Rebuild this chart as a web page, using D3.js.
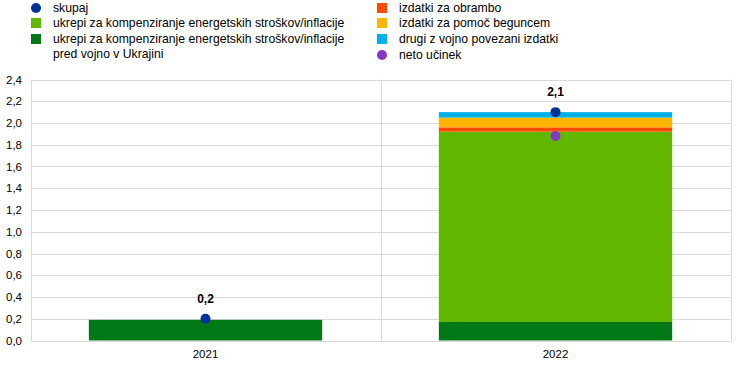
<!DOCTYPE html>
<html><head><meta charset="utf-8">
<script src="https://cdn.jsdelivr.net/npm/d3@7"></script>
<style>body{margin:0;background:#fff;}svg{display:block;font-family:"Liberation Sans",Arial,sans-serif;}</style>
</head><body><svg id="c" width="744" height="369"></svg>
<script>
const categories = ["2021", "2022"];
const seriesNames = [
  "ukrepi za kompenziranje energetskih stroškov/inflacije pred vojno v Ukrajini",
  "ukrepi za kompenziranje energetskih stroškov/inflacije",
  "izdatki za obrambo",
  "izdatki za pomoč beguncem",
  "drugi z vojno povezani izdatki"
];
const preWar = [0.19, 0.17];
const energy = [0.0, 1.75];
const defence = [0.0, 0.04];
const refugees = [0.0, 0.09];
const otherWar = [0.0, 0.05];
const total = [0.2, 2.1];
const netEffect = [null, 1.88];
const totalLabels = ["0,2", "2,1"];
const yTicks = [0, 0.2, 0.4, 0.6, 0.8, 1.0, 1.2, 1.4, 1.6, 1.8, 2.0, 2.2, 2.4];
const colors = ["#007816", "#62b800", "#ff4b00", "#ffb400", "#00b1ea"];
const dotTotal = "#003299", dotNet = "#8139c6";

const svg = d3.select("#c");
const L = 30.5, R = 730.5, T = 79.5, B = 340.5;
const x = d3.scaleBand().domain(categories).range([L, R]).paddingInner(0).paddingOuter(0);
const y = d3.scaleLinear().domain([0, 2.4]).range([B, T]);
const fmt = v => d3.format(".1f")(v).replace(".", ",");

// grid
svg.append("g").selectAll("line").data(yTicks).join("line")
  .attr("x1", L).attr("x2", R).attr("y1", d => Math.round(y(d)) + 0.5).attr("y2", d => Math.round(y(d)) + 0.5)
  .attr("stroke", "#d9d9d9").attr("stroke-width", 1);
// vertical lines
[L, x("2022"), R].forEach(px => svg.append("line").attr("x1", Math.round(px) + 0.5).attr("x2", Math.round(px) + 0.5)
  .attr("y1", T).attr("y2", B + 0.5).attr("stroke", "#d9d9d9"));

// y labels
svg.append("g").selectAll("text").data(yTicks).join("text")
  .attr("x", 22).attr("y", d => y(d) + 4).attr("text-anchor", "end")
  .attr("font-size", 11.5).attr("fill", "#000").text(fmt);

// stacked bars
const rows = categories.map((c, i) => ({cat: c, s0: preWar[i], s1: energy[i], s2: defence[i], s3: refugees[i], s4: otherWar[i]}));
const stack = d3.stack().keys(["s0", "s1", "s2", "s3", "s4"])(rows);
const bw = x.bandwidth() * 2 / 3;
svg.append("g").selectAll("g").data(stack).join("g").attr("fill", (d, i) => colors[i])
  .selectAll("rect").data(d => d.filter(p => p[1] - p[0] > 0)).join("rect")
  .attr("x", d => x(d.data.cat) + (x.bandwidth() - bw) / 2)
  .attr("width", bw)
  .attr("y", d => y(d[1])).attr("height", d => y(d[0]) - y(d[1]));

// dots
categories.forEach((c, i) => {
  const cx = x(c) + x.bandwidth() / 2;
  svg.append("circle").attr("cx", cx).attr("cy", y(total[i])).attr("r", 5).attr("fill", dotTotal);
  if (netEffect[i] != null) svg.append("circle").attr("cx", cx).attr("cy", y(netEffect[i])).attr("r", 5).attr("fill", dotNet);
  svg.append("text").attr("x", cx).attr("y", y(total[i]) - 16).attr("text-anchor", "middle")
    .attr("font-size", 12).attr("font-weight", "bold").attr("fill", "#000").text(totalLabels[i]);
  svg.append("text").attr("x", cx).attr("y", 358).attr("text-anchor", "middle")
    .attr("font-size", 11.5).attr("fill", "#000").text(c);
});

// legend
const leg = svg.append("g").attr("font-size", 12.2).attr("fill", "#000");
function legItem(mx, ty, type, color, lines) {
  if (type === "circle") leg.append("circle").attr("cx", mx + 5).attr("cy", ty - 4).attr("r", 5).attr("fill", color);
  else leg.append("rect").attr("x", mx).attr("y", ty - 9).attr("width", 10).attr("height", 10).attr("fill", color);
  lines.forEach((t, k) => leg.append("text").attr("x", mx + 22).attr("y", ty + k * 15).text(t));
}
legItem(31, 12, "circle", dotTotal, ["skupaj"]);
legItem(31, 27, "rect", colors[1], [seriesNames[1]]);
legItem(31, 43, "rect", colors[0], ["ukrepi za kompenziranje energetskih stroškov/inflacije", "pred vojno v Ukrajini"]);
legItem(377, 12, "rect", colors[2], [seriesNames[2]]);
legItem(377, 27, "rect", colors[3], [seriesNames[3]]);
legItem(377, 43, "rect", colors[4], [seriesNames[4]]);
legItem(377, 59, "circle", dotNet, ["neto učinek"]);
</script></body></html>
